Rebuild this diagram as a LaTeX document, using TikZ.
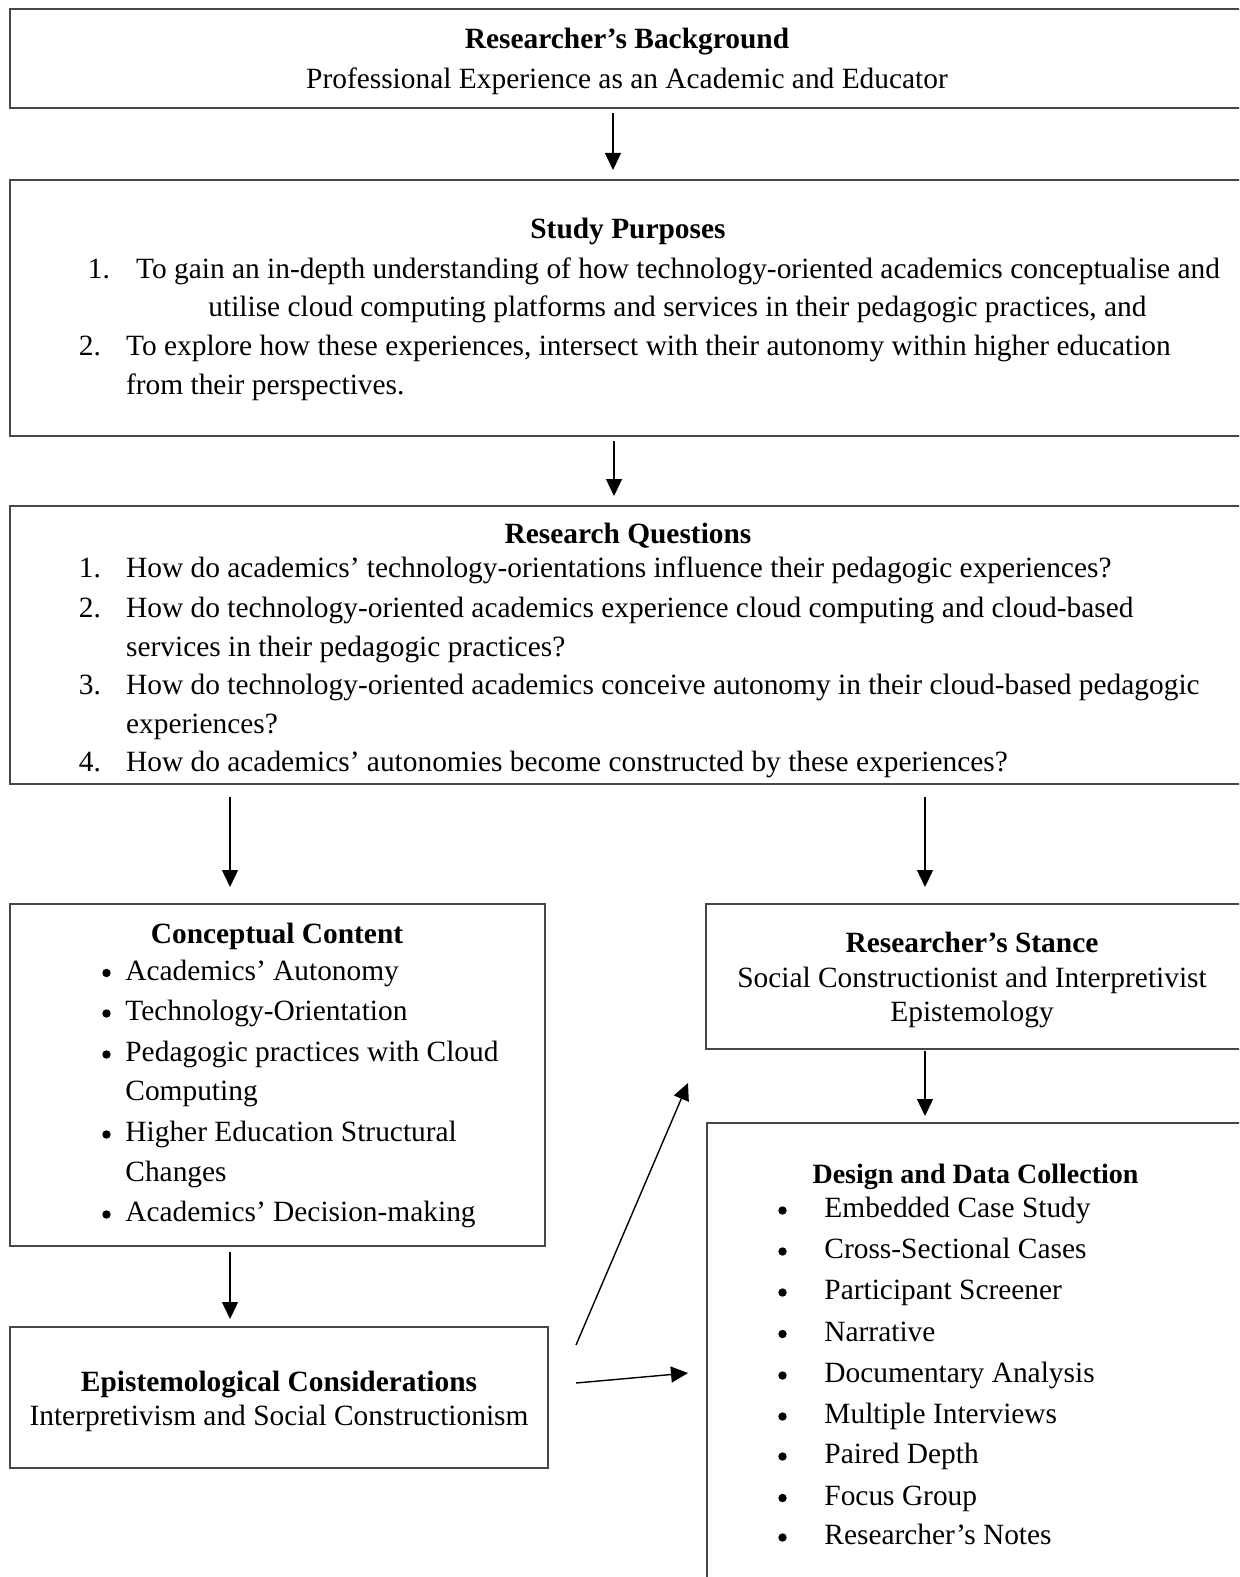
\documentclass[tikz,border=0pt]{standalone}
\usepackage{fontspec}
\setmainfont{Liberation Serif}
\usetikzlibrary{arrows.meta,calc}

\begin{document}
\begin{tikzpicture}[x=0.5pt,y=-0.5pt,
  box/.style={draw=black!72,line width=1pt,rectangle,anchor=north west,inner sep=0pt,outer sep=0pt},
  txt/.style={inner sep=0pt,yshift=-2.5pt,font=\fontsize{14.7pt}{20pt}\selectfont},
  ttl/.style={txt,anchor=mid,font=\fontsize{14.7pt}{20pt}\selectfont\bfseries},
  ctr/.style={txt,anchor=mid},
  lft/.style={txt,anchor=mid west},
  bul/.style={circle,fill=black,inner sep=0pt,minimum size=4.2pt},
  arr/.style={-{Triangle[width=8pt,length=8.5pt]},line width=0.7pt,black}]
\useasboundingbox (0,0) rectangle (1239,1577);
\clip (0,0) rectangle (1239,1577);

% frames
\node[box,minimum width=617.5pt,minimum height=49.5pt] (bg) at (10,9) {};
\node[box,minimum width=617.5pt,minimum height=128pt] (sp) at (10,180) {};
\node[box,minimum width=617.5pt,minimum height=139pt] (rq) at (10,506) {};
\node[box,minimum width=267.5pt,minimum height=171pt] (cc) at (10,904) {};
\node[box,minimum width=269pt,minimum height=70.5pt] (ep) at (10,1327) {};
\node[box,minimum width=269.5pt,minimum height=72.5pt] (st) at (706,904) {};
\node[box,minimum width=269pt,minimum height=250pt] (dc) at (707,1123) {};

% Researcher's Background
\node[ttl] (bgT) at (627,39) {Researcher’s Background};
\node[ctr] (bgL) at (627,78.5) {Professional Experience as an Academic and Educator};

% Study Purposes
\node[ttl] (spT) at (628,229) {Study Purposes};
\node[lft] (spN1) at (87.5,268.5) {1.};
\node[lft] (spL1) at (135.8,268.5) {To gain an in-depth understanding of how technology-oriented academics conceptualise and};
\node[lft] (spL1b) at (208,307) {utilise cloud computing platforms and services in their pedagogic practices, and};
\node[lft] (spN2) at (78.5,346) {2.};
\node[lft] (spL2) at (125.7,346) {To explore how these experiences, intersect with their autonomy within higher education};
\node[lft] (spL2b) at (125.7,385) {from their perspectives.};

% Research Questions
\node[ttl] (rqT) at (628,534) {Research Questions};
\node[lft] (rqN1) at (78.5,568) {1.};
\node[lft] (rqL1) at (125.7,568) {How do academics’ technology-orientations influence their pedagogic experiences?};
\node[lft] (rqN2) at (78.5,607.5) {2.};
\node[lft] (rqL2) at (125.7,607.5) {How do technology-oriented academics experience cloud computing and cloud-based};
\node[lft] (rqL2b) at (125.7,646.5) {services in their pedagogic practices?};
\node[lft] (rqN3) at (78.5,685) {3.};
\node[lft] (rqL3) at (125.7,685) {How do technology-oriented academics conceive autonomy in their cloud-based pedagogic};
\node[lft] (rqL3b) at (125.7,724) {experiences?};
\node[lft] (rqN4) at (78.5,762) {4.};
\node[lft] (rqL4) at (125.7,762) {How do academics’ autonomies become constructed by these experiences?};

% Conceptual Content
\node[ttl] (ccT) at (277,934) {Conceptual Content};
\node[bul] (ccB1) at (106.5,973) {};
\node[lft] (ccL1) at (125,970.5) {Academics’ Autonomy};
\node[bul] (ccB2) at (106.5,1013.5) {};
\node[lft] (ccL2) at (125,1011) {Technology-Orientation};
\node[bul] (ccB3) at (106.5,1054.5) {};
\node[lft] (ccL3) at (125,1052) {Pedagogic practices with Cloud};
\node[lft] (ccL3b) at (125,1091) {Computing};
\node[bul] (ccB4) at (106.5,1134.5) {};
\node[lft] (ccL4) at (125,1132) {Higher Education Structural};
\node[lft] (ccL4b) at (125,1171.5) {Changes};
\node[bul] (ccB5) at (106.5,1214.5) {};
\node[lft] (ccL5) at (125,1212) {Academics’ Decision-making};

% Epistemological Considerations
\node[ttl] (epT) at (279,1382) {Epistemological Considerations};
\node[ctr] (epL) at (279,1416) {Interpretivism and Social Constructionism};

% Researcher's Stance
\node[ttl] (stT) at (972,943) {Researcher’s Stance};
\node[ctr] (stL1) at (972,977.5) {Social Constructionist and Interpretivist};
\node[ctr] (stL2) at (972,1012) {Epistemology};

% Design and Data Collection
\node[ttl,font=\fontsize{14pt}{19pt}\selectfont\bfseries] (dcT) at (975.5,1174) {Design and Data Collection};
\foreach \yy/\tt [count=\i] in {1208/Embedded Case Study,1249/Cross-Sectional Cases,1290/Participant Screener,1331.5/Narrative,1373/Documentary Analysis,1414/Multiple Interviews,1454/Paired Depth,1495.5/Focus Group,1535/Researcher’s Notes}{
  \node[bul] (dcB\i) at (782.5,\yy+2.5) {};
  \node[lft] (dcL\i) at (824,\yy) {\tt};
}

% connectors
\draw[arr] ($(bg.south west)+(603,5)$) -- ($(sp.north west)+(603,-10)$);
\draw[arr] ($(sp.south west)+(604,5)$) -- ($(rq.north west)+(604,-10)$);
\draw[arr] ($(rq.south west)+(220,13)$) -- ($(cc.north west)+(220,-17)$);
\draw[arr] ($(rq.south west)+(915,13)$) -- ($(st.north west)+(219,-17)$);
\draw[arr] ($(cc.south west)+(220,6)$) -- ($(ep.north west)+(220,-8)$);
\draw[arr] ($(st.south west)+(219,2)$) -- ($(dc.north west)+(218,-7)$);
\coordinate (epOut1) at ($(ep.north east)+(28,18)$);
\coordinate (stIn) at ($(st.south west)+(-18,34)$);
\coordinate (epOut2) at ($(ep.north east)+(28,56)$);
\coordinate (dcIn) at ($(dc.north west)+(-19,250)$);
\draw[arr] (epOut1) -- (stIn);
\draw[arr] (epOut2) -- (dcIn);
\end{tikzpicture}
\end{document}
